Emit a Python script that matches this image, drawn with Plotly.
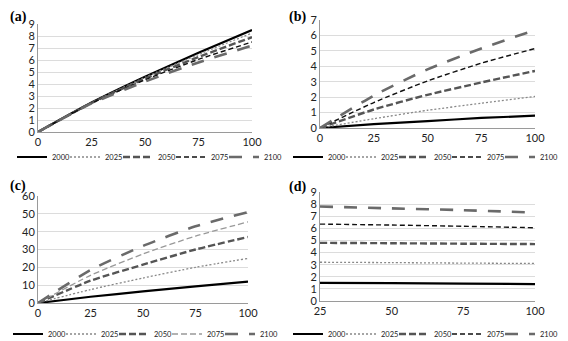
import plotly.graph_objects as go

years = ["2000", "2025", "2050", "2075", "2100"]

# Panel (a)
a_x = [0, 25, 50, 75, 100]
a_2000 = [0, 2.45, 4.6, 6.6, 8.5]
a_2025 = [0, 2.45, 4.55, 6.45, 8.25]
a_2050 = [0, 2.42, 4.45, 6.25, 7.9]
a_2075 = [0, 2.4, 4.35, 6.05, 7.5]
a_2100 = [0, 2.38, 4.2, 5.8, 7.2]

# Panel (b)
b_x = [0, 25, 50, 75, 100]
b_2000 = [0, 0.25, 0.45, 0.65, 0.8]
b_2025 = [0, 0.6, 1.15, 1.6, 2.05]
b_2050 = [0, 1.2, 2.15, 2.95, 3.7]
b_2075 = [0, 1.65, 3.05, 4.2, 5.15]
b_2100 = [0, 2.1, 3.8, 5.15, 6.35]

# Panel (c)
c_x = [0, 25, 50, 75, 100]
c_2000 = [0, 3.5, 6.5, 9.3, 12]
c_2025 = [0, 7.5, 14, 20, 25]
c_2050 = [0, 12.5, 21.5, 30, 37]
c_2075 = [0, 15.5, 27.5, 37.5, 45.5]
c_2100 = [0, 18.5, 32, 43, 51]

# Panel (d)
d_x = [25, 50, 75, 100]
d_2000 = [1.5, 1.47, 1.43, 1.4]
d_2025 = [3.2, 3.17, 3.13, 3.1]
d_2050 = [4.8, 4.77, 4.73, 4.7]
d_2075 = [6.35, 6.27, 6.17, 6.05]
d_2100 = [7.8, 7.65, 7.5, 7.3]

# The page body has an 8px default margin, so the figure is drawn 8px smaller
OFF = 8
W, H = 568 - OFF, 341 - OFF

def px_x(p):
    return (p - OFF) / W

def px_y(p):
    return 1 - (p - OFF) / H

styles = {
    "2000": dict(color="#000000", width=2.2, dash="solid"),
    "2025": dict(color="#888888", width=1.3, dash="2px,2px"),
    "2050": dict(color="#555555", width=2.4, dash="7px,3px"),
    "2075": dict(color="#111111", width=1.4, dash="5px,3px"),
    "2100": dict(color="#6a6a6a", width=2.6, dash="13px,11px"),
}
style_c2075 = dict(color="#999999", width=1.3, dash="6px,3px")

panels = [
    ("a", a_x, [a_2000, a_2025, a_2050, a_2075, a_2100], "x", "y", "legend"),
    ("b", b_x, [b_2000, b_2025, b_2050, b_2075, b_2100], "x2", "y2", "legend2"),
    ("c", c_x, [c_2000, c_2025, c_2050, c_2075, c_2100], "x3", "y3", "legend3"),
    ("d", d_x, [d_2000, d_2025, d_2050, d_2075, d_2100], "x4", "y4", "legend4"),
]

fig = go.Figure()
for name, xs, series, xa, ya, lg in panels:
    for yr, ys in zip(years, series):
        st = styles[yr]
        if name == "c" and yr == "2075":
            st = style_c2075
        fig.add_trace(go.Scatter(
            x=xs, y=ys, mode="lines", name=yr,
            line=dict(color=st["color"], width=st["width"], dash=st["dash"], shape="spline", smoothing=0.6),
            xaxis=xa, yaxis=ya, legend=lg, hoverinfo="skip",
            legendwidth=22 if yr == "2100" else None,
        ))

tickfont = dict(family="Lato, Open Sans, sans-serif", size=11, color="#222222")
common_x = dict(showgrid=False, showline=True, linecolor="#9a9a9a", linewidth=1,
                ticks="", tickfont=tickfont, zeroline=False, fixedrange=True)
common_y = dict(showgrid=True, gridcolor="#dcdcdc", gridwidth=1, showline=True,
                linecolor="#9a9a9a", linewidth=1, ticks="", tickfont=tickfont,
                zeroline=False, fixedrange=True)

legend_common = dict(orientation="h", font=dict(family="Lato, Open Sans, sans-serif", size=7.5, color="#222"),
                     bgcolor="rgba(0,0,0,0)", itemwidth=30, entrywidth=8,
                     entrywidthmode="pixels", yanchor="middle", xanchor="left",
                     tracegroupgap=0, itemclick=False, itemdoubleclick=False)

fig.update_layout(
    width=W, height=H, margin=dict(l=0, r=0, t=0, b=0, autoexpand=False),
    paper_bgcolor="white", plot_bgcolor="white",
    xaxis=dict(common_x, domain=[px_x(38), px_x(252)], range=[0, 100], tickvals=[0, 25, 50, 75, 100], anchor="y"),
    yaxis=dict(common_y, domain=[px_y(132), px_y(24)], range=[0, 9], dtick=1, anchor="x"),
    xaxis2=dict(common_x, domain=[px_x(320), px_x(535)], range=[0, 100], tickvals=[0, 25, 50, 75, 100], anchor="y2"),
    yaxis2=dict(common_y, domain=[px_y(128), px_y(20)], range=[0, 7], dtick=1, anchor="x2"),
    xaxis3=dict(common_x, domain=[px_x(38), px_x(248)], range=[0, 100], tickvals=[0, 25, 50, 75, 100], anchor="y3"),
    yaxis3=dict(common_y, domain=[px_y(303), px_y(196)], range=[0, 60], dtick=10, anchor="x3"),
    xaxis4=dict(common_x, domain=[px_x(320), px_x(535)], range=[25, 100], tickvals=[25, 50, 75, 100], anchor="y4"),
    yaxis4=dict(common_y, domain=[px_y(301), px_y(192)], range=[0, 9], dtick=1, anchor="x4"),
    legend=dict(legend_common, x=px_x(12), y=px_y(157)),
    legend2=dict(legend_common, x=px_x(288), y=px_y(157)),
    legend3=dict(legend_common, x=px_x(8), y=px_y(334)),
    legend4=dict(legend_common, x=px_x(288), y=px_y(334)),
    showlegend=True,
)

label_font = dict(family="Liberation Serif, DejaVu Serif, serif", size=14, color="#000")
for txt, x, y in [("(a)", 8, 17), ("(b)", 287, 17), ("(c)", 8, 186), ("(d)", 287, 187)]:
    fig.add_annotation(text="<b>" + txt + "</b>", x=px_x(x), y=px_y(y), xref="paper", yref="paper",
                       xanchor="left", yanchor="middle", showarrow=False, font=label_font)

fig.write_html("out.html")
